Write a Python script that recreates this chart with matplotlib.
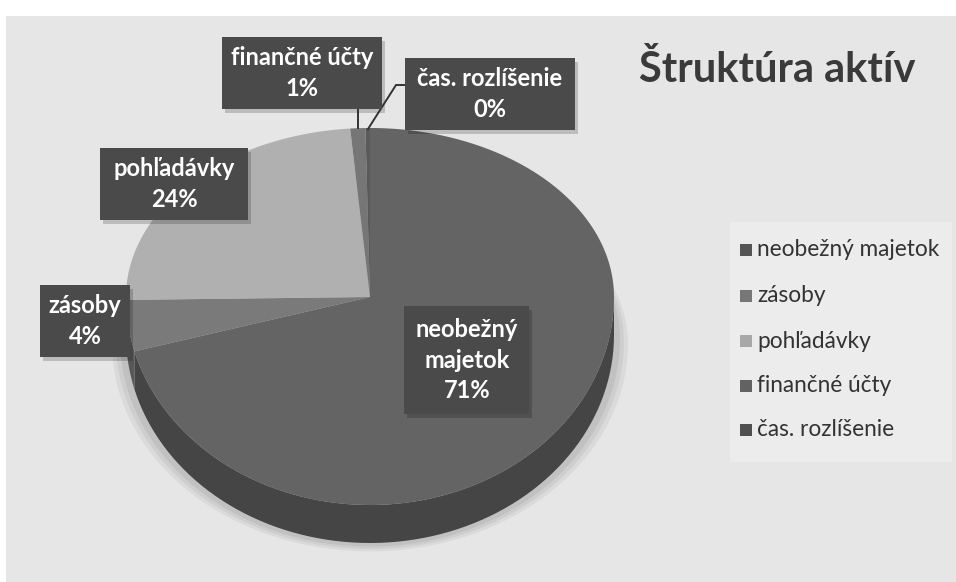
import numpy as np
import matplotlib.pyplot as plt
from matplotlib.patches import Polygon, Rectangle

# Data
categories = ["neobežný majetok", "zásoby", "pohľadávky", "finančné účty", "čas. rozlíšenie"]
shares = [71, 4, 24, 1, 0.3]
pct_labels = ["71%", "4%", "24%", "1%", "0%"]
top_colors = ["#646464", "#7a7a7a", "#b0b0b0", "#767676", "#5a5a5a"]
side_colors = ["#454545", "#585858", "#8a8a8a", "#555555", "#404040"]
legend_colors = ["#555555", "#777777", "#a8a8a8", "#626262", "#505050"]
title = "Štruktúra aktív"

W, H = 956, 582
fig = plt.figure(figsize=(W / 100, H / 100), dpi=100)
fig.patch.set_facecolor("white")
ax = fig.add_axes([0, 0, 1, 1])
ax.set_xlim(0, W)
ax.set_ylim(H, 0)
ax.axis("off")

# scanned page background
ax.add_patch(Rectangle((6, 16), W - 6, H - 16, facecolor="#e6e6e6", edgecolor="none", zorder=0))
ax.add_patch(Rectangle((730, 222), 222, 240, facecolor="#ececec", edgecolor="none", zorder=0.5))

# pseudo 3D pie geometry
cx, cy = 370, 297
rx, ry_top, ry_bot = 244, 169, 208
depth = 38


def rim(theta):
    s = np.sin(theta)
    x = cx + rx * np.cos(theta)
    y = cy - np.where(s > 0, ry_top, ry_bot) * s
    return x, y


vals = np.array(shares, dtype=float)
fr = vals / vals.sum()
starts = np.deg2rad(90 - 360 * np.concatenate([[0], np.cumsum(fr)[:-1]]))
ends = starts - 2 * np.pi * fr

# soft shadow under pie
for k, a in enumerate([0.05, 0.05, 0.06]):
    t = np.linspace(0, 2 * np.pi, 200)
    xs, ys = rim(t)
    g = 14 - 4 * k
    ax.add_patch(Polygon(np.c_[cx + (xs - cx) * (1 + g / rx), ys + depth + g * 0.6],
                         facecolor="#000000", alpha=a, edgecolor="none", zorder=1))

# side walls (front half only)
for i in range(len(categories)):
    a0, a1 = starts[i], ends[i]
    for off in (0, -2 * np.pi, 2 * np.pi):
        lo = max(min(a0, a1) + off, -np.pi)
        hi = min(max(a0, a1) + off, 0)
        if hi > lo:
            t = np.linspace(lo, hi, 80)
            xs, ys = rim(t)
            pts = np.r_[np.c_[xs, ys], np.c_[xs[::-1], ys[::-1] + depth]]
            ax.add_patch(Polygon(pts, facecolor=side_colors[i], edgecolor="none", zorder=2))

# top faces
for i in range(len(categories)):
    t = np.linspace(starts[i], ends[i], max(int(abs(ends[i] - starts[i]) * 60), 4))
    xs, ys = rim(t)
    pts = np.r_[[[cx, cy]], np.c_[xs, ys]]
    ax.add_patch(Polygon(pts, facecolor=top_colors[i], edgecolor="none", zorder=3))

# data labels (box positions in pixels)
label_pos = [(467, 360), (85, 321), (174, 184), (302, 73), (490, 94)]
box_size = [(125, 108), (90, 72), (148, 72), (160, 72), (170, 72)]
label_text = ["neobežný\nmajetok\n71%", "zásoby\n4%", "pohľadávky\n24%",
              "finančné účty\n1%", "čas. rozlíšenie\n0%"]
for (x, y), (bw, bh), txt in zip(label_pos, box_size, label_text):
    ax.add_patch(Rectangle((x - bw / 2 + 3, y - bh / 2 + 4), bw, bh, facecolor="#000000",
                           alpha=0.18, edgecolor="none", zorder=4))
    ax.add_patch(Rectangle((x - bw / 2, y - bh / 2), bw, bh, facecolor="#4a4a4a",
                           edgecolor="none", zorder=5))
    ax.text(x, y, txt, ha="center", va="center", color="white", fontsize=17,
            fontweight="bold", family="Lato", linespacing=1.38, zorder=6)

# leader lines
ax.plot([358, 358], [110, 128], color="#333333", lw=1.4, zorder=4)
ax.plot([405, 396, 368], [85, 85, 129], color="#333333", lw=1.4, zorder=4)

# title
ax.text(777, 70, title, ha="center", va="center", color="#3a3a3a", fontsize=30,
        fontweight="bold", family="Lato", zorder=6)

# legend
leg_y = [250, 296, 341, 386, 430]
for yy, c, name in zip(leg_y, legend_colors, categories):
    ax.add_patch(Rectangle((740, yy - 6), 12, 12, facecolor=c, edgecolor="none", zorder=6))
    ax.text(757, yy, name, ha="left", va="center", color="#333333", fontsize=16.3,
            family="Lato", zorder=6)

fig.savefig("out.png", dpi=100)
